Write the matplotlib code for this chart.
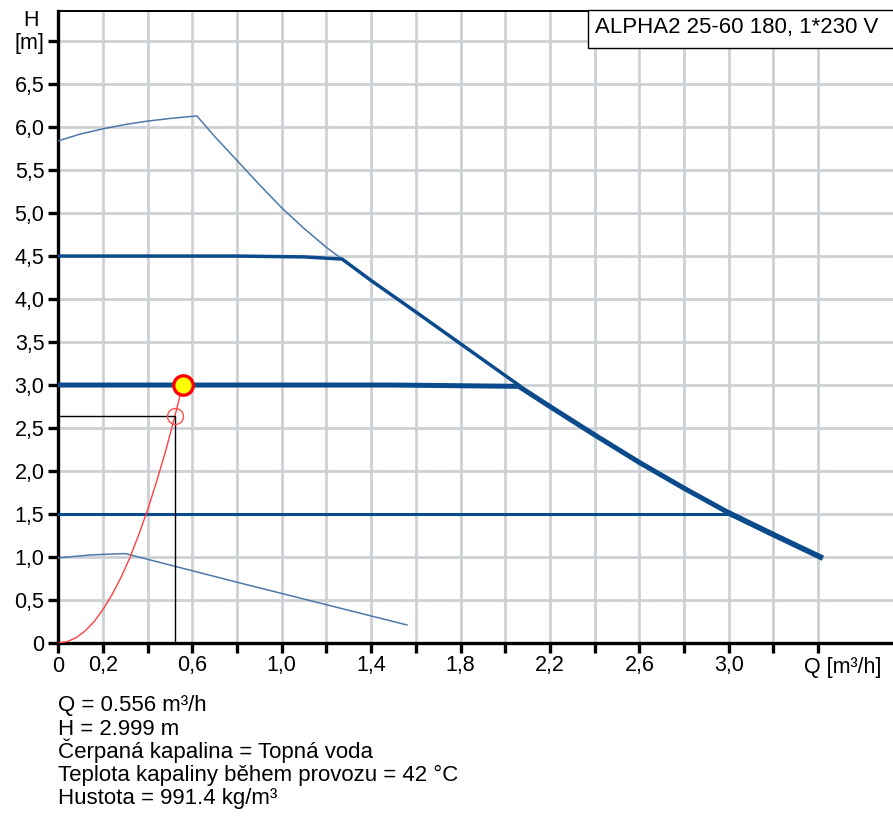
import matplotlib
matplotlib.use("Agg")
import matplotlib.pyplot as plt
from matplotlib.patches import Rectangle

plt.rcParams["font.family"] = ["Liberation Sans", "DejaVu Sans"]

# ── data ─────────────────────────────────────────────────────────────────────
# max speed curve (thin)
max_q = [0.0, 0.1, 0.2, 0.3, 0.4, 0.5, 0.62, 0.7, 0.8, 0.9, 1.0, 1.1, 1.2, 1.27]
max_h = [5.84, 5.92, 5.98, 6.03, 6.07, 6.10, 6.13, 5.89, 5.61, 5.33, 5.06,
         4.82, 4.60, 4.465]

# min speed curve (thin)
min_q = [0.0, 0.15, 0.30, 0.81, 1.56]
min_h = [0.99, 1.025, 1.04, 0.70, 0.21]

# constant pressure 4.5 m
cp45_q = [0.0, 0.8, 1.1, 1.27, 1.40, 1.60, 1.80, 2.00, 2.06]
cp45_h = [4.50, 4.50, 4.49, 4.465, 4.215, 3.85, 3.48, 3.11, 3.00]

# constant pressure 3.0 m
cp30_q = [0.0, 1.5, 2.06, 2.2, 2.4, 2.6, 2.8, 3.01]
cp30_h = [3.00, 3.00, 2.985, 2.75, 2.42, 2.10, 1.80, 1.50]

# constant pressure 1.5 m
cp15_q = [0.0, 3.01]
cp15_h = [1.50, 1.50]
tail_q = [3.01, 3.2, 3.41]
tail_h = [1.50, 1.26, 1.00]

# system curve (red)
sys_q = [0.0, 0.04, 0.08, 0.12, 0.16, 0.2, 0.24, 0.28, 0.32, 0.36, 0.4,
         0.44, 0.48, 0.522, 0.556]
sys_h = [0.0, 0.016, 0.062, 0.14, 0.248, 0.39, 0.56, 0.76, 0.99, 1.26, 1.55,
         1.88, 2.23, 2.64, 2.999]

duty_q, duty_h = 0.556, 2.999
act_q, act_h = 0.522, 2.64

x_ticks = [round(0.2 * i, 1) for i in range(18)]
x_labels = ["0", "0,2", "", "0,6", "", "1,0", "", "1,4", "", "1,8", "", "2,2",
            "", "2,6", "", "3,0", "", ""]
y_ticks = [0.5 * i for i in range(15)]
y_labels = ["0", "0,5", "1,0", "1,5", "2,0", "2,5", "3,0", "3,5", "4,0",
            "4,5", "5,0", "5,5", "6,0", "6,5", "[m]"]

info_lines = [
    "Q = 0.556 m³/h",
    "H = 2.999 m",
    "Čerpaná kapalina = Topná voda",
    "Teplota kapaliny během provozu = 42 °C",
    "Hustota = 991.4 kg/m³",
]

# ── figure ───────────────────────────────────────────────────────────────────
W, H = 893, 827
fig = plt.figure(figsize=(W / 100, H / 100), dpi=100)
ax = fig.add_axes([58.3 / W, (H - 643) / H, (W - 58.3) / W, (643 - 11) / H])
ax.set_xlim(0, 3.735)
ax.set_ylim(0, 7.35)

DARK = "#0b4b8b"
THIN = "#4f78aa"
FS = 15.5

ax.plot(max_q, max_h, color=THIN, lw=1.1, zorder=3)
ax.plot(min_q, min_h, color=THIN, lw=1.1, zorder=3)
ax.plot(cp45_q, cp45_h, color=DARK, lw=2.5, zorder=4, solid_joinstyle="round")
ax.plot(cp30_q, cp30_h, color=DARK, lw=3.6, zorder=4, solid_joinstyle="round")
ax.plot(cp15_q, cp15_h, color=DARK, lw=2.2, zorder=4)
ax.plot(tail_q, tail_h, color=DARK, lw=4.0, zorder=4, solid_joinstyle="round")

ax.plot(sys_q, sys_h, color="#ff4040", lw=1.0, zorder=5)
ax.plot([0, act_q, act_q], [act_h, act_h, 0], color="black", lw=1.0, zorder=5)
ax.plot(act_q, act_h, marker="o", ms=11.5, mfc="none", mec="#ff5050", mew=1.0, zorder=6)
ax.plot(duty_q, duty_h, marker="o", ms=14, mfc="#ffff00", mec="#ff0000", mew=2.4, zorder=7)

# axes styling
ax.set_xticks(x_ticks)
ax.set_xticklabels(x_labels, fontsize=FS)
ax.set_yticks(y_ticks)
ax.set_yticklabels(y_labels, fontsize=FS)
ax.grid(True, color="#cdd1d5", lw=2.0, zorder=0)
ax.set_axisbelow(True)
ax.tick_params(direction="out", length=7.5, width=2.4, color="black", pad=2.5)
ax.tick_params(axis="x", pad=1.5)
for s in ("left", "bottom"):
    ax.spines[s].set_linewidth(2.4)
ax.spines["top"].set_linewidth(1.4)
ax.spines["right"].set_visible(False)

ax.text(3.335, -0.16, "Q [m³/h]", fontsize=FS, ha="left", va="top",
        transform=ax.transData, clip_on=False)
fig.text(31 / W, 1 - 21 / H, "H", fontsize=FS, ha="center", va="center")

# title box
fig.patches.append(Rectangle((588 / W, 1 - 48 / H), (W - 588 + 5) / W, 38 / H,
                             transform=fig.transFigure, facecolor="white",
                             edgecolor="black", lw=1.0, zorder=10))
fig.text(595 / W, 1 - 33.5 / H, "ALPHA2 25-60 180, 1*230 V", fontsize=FS + 0.5,
         ha="left", va="baseline", zorder=11)

for i, line in enumerate(info_lines):
    fig.text(58 / W, 1 - (711.5 + 23.2 * i) / H, line, fontsize=FS + 0.5,
             ha="left", va="baseline")

fig.savefig("out.png", dpi=100)
